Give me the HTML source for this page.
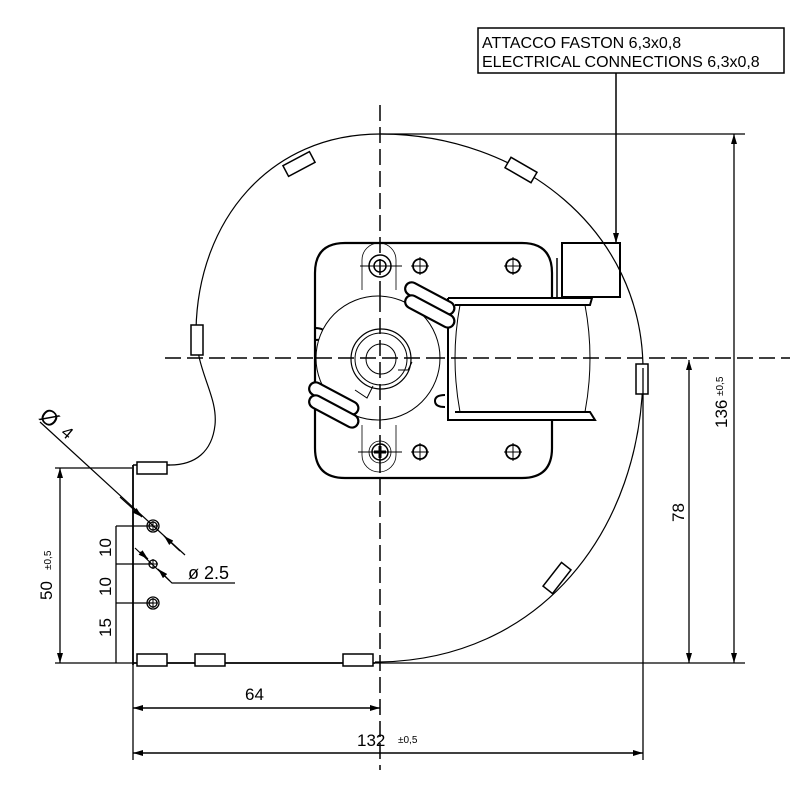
<!DOCTYPE html>
<html><head><style>html,body{margin:0;padding:0;background:#fff}svg{display:block}
text{font-family:"Liberation Sans",sans-serif;fill:#000}</style></head><body>
<svg width="800" height="800" viewBox="0 0 800 800" xmlns="http://www.w3.org/2000/svg">
<defs>
<marker id="a" viewBox="0 0 10 6" refX="10" refY="3" markerWidth="10" markerHeight="6" orient="auto-start-reverse" markerUnits="userSpaceOnUse"><path d="M0,0L10,3L0,6z" fill="#000"/></marker>
</defs>
<g fill="none" stroke="#000">
<line x1="380" y1="105" x2="380" y2="770" stroke-width="1.5" stroke-dasharray="16,6"/>
<line x1="165" y1="358" x2="790" y2="358" stroke-width="1.5" stroke-dasharray="16,6"/>
<path d="M375,662 C540,662 643,530 643,370 C643,230 520,134 380,134 C270,134 198,220 196,330 C196,372 218,395 215,425 C212,452 195,465 170,465" stroke-width="1.2"/>
<line x1="133" y1="465" x2="133" y2="665" stroke-width="1.8"/>
<line x1="133" y1="465" x2="170" y2="465" stroke-width="1.5"/>
<line x1="133" y1="663" x2="375" y2="663" stroke-width="1.8"/>
<g stroke-width="1.5" fill="#fff">
<rect x="137" y="462" width="30" height="12"/>
<rect x="137" y="654" width="30" height="12"/>
<rect x="195" y="654" width="30" height="12"/>
<rect x="343" y="654" width="30" height="12"/>
<rect x="191" y="325" width="12" height="30"/>
<rect x="636" y="364" width="12" height="30"/>
<rect x="-15" y="-6" width="30" height="12" transform="translate(299,164) rotate(-28)"/>
<rect x="-15" y="-6" width="30" height="12" transform="translate(521,170) rotate(30)"/>
<rect x="-15" y="-6" width="30" height="12" transform="translate(557,578) rotate(-52)"/>
</g>
<path d="M345,243 H522 Q552,243 552,273 V298 M552,420 V448 Q552,478 522,478 H345 Q315,478 315,448 V273 Q315,243 345,243" stroke-width="2.2"/>
<path d="M315,328 q10,0 10,6 q0,6 -10,6 M445,395 q-10,0 -10,6 q0,6 10,6" stroke-width="2"/>
<path d="M448,298 H592 L590,305 H455 M448,298 V420 H595 L590,412 H455" stroke-width="2"/>
<path d="M460,305 Q450,358 460,412 M585,305 Q595,358 585,412" stroke-width="1"/>
<rect x="562" y="243" width="58" height="54" stroke-width="2"/>
<line x1="557" y1="258" x2="557" y2="297" stroke-width="1.5"/>
<circle cx="378" cy="358" r="62" stroke-width="1" fill="#fff"/>
<circle cx="381" cy="359" r="30" stroke-width="1.2"/>
<circle cx="381" cy="359" r="26" stroke-width="1"/>
<circle cx="381" cy="359" r="15" stroke-width="1"/>
<path d="M355,390 l12,8 l6,-12 M412,362 l-4,8 l-10,0" stroke-width="1"/>
<line x1="380" y1="296" x2="380" y2="420" stroke-width="1.5" stroke-dasharray="16,6"/>
<line x1="316" y1="358" x2="440" y2="358" stroke-width="1.5" stroke-dasharray="16,6"/>
<g stroke-width="2.2" fill="#fff">
<rect x="403" y="292" width="54" height="13" rx="6.5" transform="rotate(28 430 298)"/>
<rect x="403" y="305" width="54" height="13" rx="6.5" transform="rotate(28 430 311)"/>
<rect x="307" y="392" width="54" height="13" rx="6.5" transform="rotate(28 334 398)"/>
<rect x="307" y="405" width="54" height="13" rx="6.5" transform="rotate(28 334 411)"/>
</g>
<path d="M362,290 V260 a17,17 0 0 1 34,0 V290 M362,425 V455 a17,17 0 0 0 34,0 V425" stroke-width="0.8"/>
<circle cx="380" cy="266" r="11" stroke-width="1.5"/><circle cx="380" cy="266" r="6" stroke-width="1.5"/>
<circle cx="380" cy="452" r="11" stroke-width="0.8"/><circle cx="380" cy="452" r="8" stroke-width="1.5"/>
<path d="M374,452 h12 M380,446 v12" stroke-width="3"/>
<line x1="360" y1="266" x2="402" y2="266" stroke-width="1"/>
<line x1="358" y1="452" x2="402" y2="452" stroke-width="1"/>
<g stroke-width="1.8">
<circle cx="420" cy="266" r="7"/><circle cx="513" cy="266" r="7"/>
<circle cx="420" cy="452" r="7"/><circle cx="513" cy="452" r="7"/>
</g>
<path d="M411,266h18M420,257v18M504,266h18M513,257v18M411,452h18M420,443v18M504,452h18M513,443v18" stroke-width="1"/>
<rect x="478" y="28" width="306" height="45" stroke-width="1.5"/>
<line x1="616" y1="73" x2="616" y2="243" stroke-width="1.5" marker-end="url(#a)"/>
<line x1="380" y1="134" x2="745" y2="134" stroke-width="1.3"/>
<line x1="375" y1="663" x2="745" y2="663" stroke-width="1.3"/>
<line x1="734" y1="134" x2="734" y2="663" stroke-width="1.3" marker-start="url(#a)" marker-end="url(#a)"/>
<line x1="689" y1="360" x2="689" y2="663" stroke-width="1.3" marker-start="url(#a)" marker-end="url(#a)"/>
<line x1="643" y1="368" x2="643" y2="760" stroke-width="1.3"/>
<line x1="133" y1="665" x2="133" y2="760" stroke-width="1.3"/>
<line x1="133" y1="708" x2="380" y2="708" stroke-width="1.5" marker-start="url(#a)" marker-end="url(#a)"/>
<line x1="133" y1="753" x2="643" y2="753" stroke-width="1.5" marker-start="url(#a)" marker-end="url(#a)"/>
<line x1="55" y1="468" x2="132" y2="468" stroke-width="1.3"/>
<line x1="55" y1="663" x2="133" y2="663" stroke-width="1.3"/>
<line x1="60" y1="468" x2="60" y2="663" stroke-width="1.3" marker-start="url(#a)" marker-end="url(#a)"/>
<line x1="116" y1="526" x2="153" y2="526" stroke-width="1.2"/>
<line x1="116" y1="564" x2="153" y2="564" stroke-width="1.2"/>
<line x1="116" y1="603" x2="153" y2="603" stroke-width="1.2"/>
<line x1="116" y1="526" x2="116" y2="663" stroke-width="1.3"/>
<g stroke-width="1.3"><circle cx="153" cy="526" r="6"/><circle cx="153" cy="526" r="4"/><circle cx="153" cy="564" r="4"/><circle cx="153" cy="603" r="6"/><circle cx="153" cy="603" r="4"/></g>
<path d="M148,526h10M153,521v10M148,564h10M153,559v10M148,603h10M153,598v10" stroke-width="1"/>
<line x1="40" y1="422" x2="185" y2="555" stroke-width="1.2"/>
<line x1="120" y1="497" x2="142" y2="517" stroke-width="1.2" marker-end="url(#a)"/>
<line x1="180" y1="551" x2="164" y2="536" stroke-width="1.2" marker-end="url(#a)"/>
<path d="M135,548 L172,583 H235" stroke-width="1.2"/>
<line x1="140" y1="552" x2="148" y2="559" stroke-width="1.2" marker-end="url(#a)"/>
<line x1="170" y1="581" x2="158" y2="569" stroke-width="1.2" marker-end="url(#a)"/>
</g>
<text x="482" y="48" font-size="16">ATTACCO FASTON 6,3x0,8</text>
<text x="482" y="67" font-size="16">ELECTRICAL CONNECTIONS 6,3x0,8</text>
<text x="245" y="700" font-size="17">64</text>
<text x="357" y="746" font-size="17">132</text>
<text x="398" y="743" font-size="10">±0,5</text>
<text transform="translate(727,428) rotate(-90)" font-size="17">136</text>
<text transform="translate(723,396) rotate(-90)" font-size="10">±0,5</text>
<text transform="translate(684,522) rotate(-90)" font-size="17">78</text>
<text transform="translate(52,600) rotate(-90)" font-size="17">50</text>
<text transform="translate(51,570) rotate(-90)" font-size="10">±0,5</text>
<text transform="translate(111,557) rotate(-90)" font-size="17">10</text>
<text transform="translate(111,596) rotate(-90)" font-size="17">10</text>
<text transform="translate(111,637) rotate(-90)" font-size="17">15</text>
<text x="188" y="579" font-size="18">ø 2.5</text>
<text transform="translate(38,418) rotate(40)" font-size="22">Ø</text>
<text transform="translate(60,434) rotate(40)" font-size="17">4</text>
</svg>
</body></html>
